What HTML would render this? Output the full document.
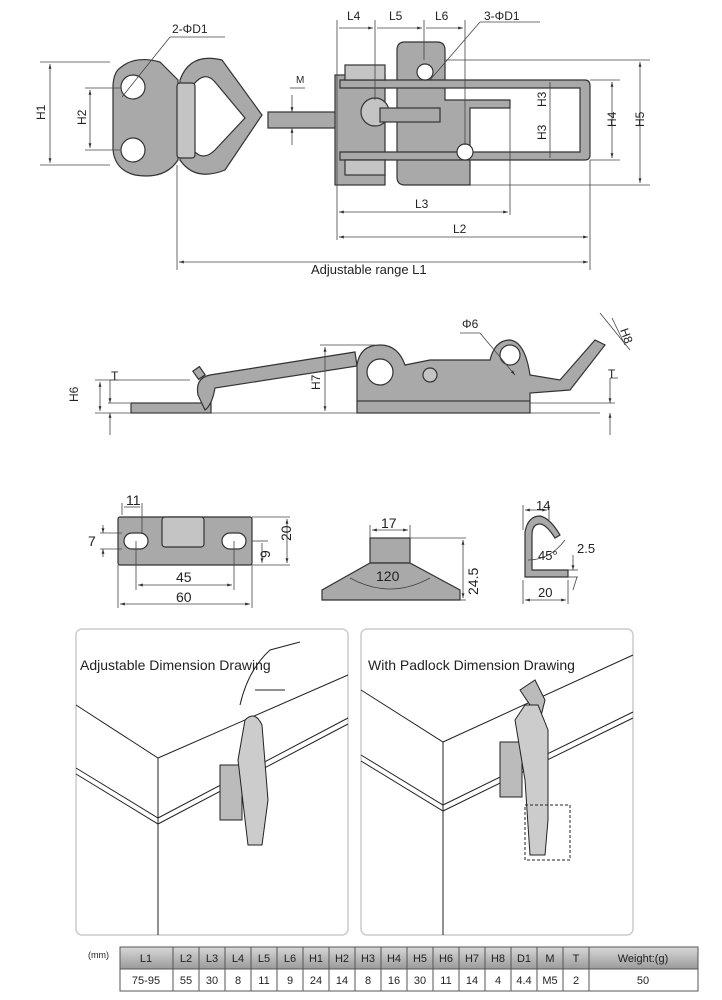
<!DOCTYPE html>
<html><head><meta charset="utf-8"><style>
body{margin:0;background:#fff;width:722px;height:1000px;overflow:hidden}
svg{display:block}
text{font-family:"Liberation Sans",sans-serif;fill:#222}
.d{stroke:#444;stroke-width:0.8;fill:none}
.p{fill:#a9a9a9;stroke:#333;stroke-width:1.2}
.l{fill:#c4c4c4;stroke:#333;stroke-width:1.2}
.w{fill:#fff;stroke:#333;stroke-width:1.2}
.k{stroke:#222;stroke-width:1;fill:none}
</style></head><body>
<svg width="722" height="1000" viewBox="0 0 722 1000">
<defs><marker id="a" viewBox="0 0 10 10" refX="10" refY="5" markerWidth="6" markerHeight="6" orient="auto-start-reverse"><path d="M0,2L10,5L0,8z" fill="#333"/></marker>
<linearGradient id="g" x1="0" y1="0" x2="0" y2="1"><stop offset="0" stop-color="#d8d8d8"/><stop offset="1" stop-color="#9a9a9a"/></linearGradient></defs>

<!-- TOP VIEW -->
<path class="p" d="M120,68 Q135,55 160,62 L178,80 L178,160 Q165,180 135,175 Q115,170 113,150 L113,85 Q114,72 120,68z"/>
<circle class="w" cx="133" cy="87" r="12"/><circle class="w" cx="133" cy="150" r="12"/>
<path class="p" d="M180,80 Q190,52 222,60 L262,115 L225,170 Q195,182 180,160z"/>
<path class="w" d="M193,85 Q205,70 215,82 L245,118 L215,150 Q203,162 193,150z"/>
<rect class="l" x="177" y="83" width="18" height="75" rx="3"/>
<rect class="p" x="268" y="112" width="80" height="16"/>
<rect class="p" x="335" y="75" width="50" height="110"/>
<path class="p" d="M397,50 Q397,42 405,42 L437,42 Q445,42 445,50 L445,100 L510,100 L510,108 L470,108 L470,185 L405,185 Q397,185 397,177z"/>
<path class="p" d="M340,80 L585,80 Q590,80 590,86 L590,155 Q590,160 585,160 L340,160 L340,152 L580,152 L580,88 L340,88z"/>
<rect class="l" x="345" y="65" width="40" height="15"/><rect class="l" x="345" y="160" width="40" height="15"/>
<circle class="l" cx="375" cy="112" r="14"/><circle class="w" cx="425" cy="72" r="8"/><circle class="w" cx="465" cy="152" r="8"/>
<rect class="p" x="380" y="108" width="60" height="14"/>
<g class="d">
<line x1="40" y1="62" x2="110" y2="62"/><line x1="40" y1="165" x2="110" y2="165"/><line x1="50" y1="64" x2="50" y2="163" marker-start="url(#a)" marker-end="url(#a)"/>
<line x1="85" y1="88" x2="120" y2="88"/><line x1="85" y1="150" x2="120" y2="150"/><line x1="90" y1="90" x2="90" y2="148" marker-start="url(#a)" marker-end="url(#a)"/>
<line x1="122" y1="97" x2="170" y2="37"/><line x1="170" y1="37" x2="225" y2="37"/>
<line x1="290" y1="88" x2="305" y2="88"/><line x1="292" y1="95" x2="292" y2="112" marker-end="url(#a)"/><line x1="292" y1="145" x2="292" y2="128" marker-end="url(#a)"/>
<line x1="337" y1="20" x2="337" y2="240"/><line x1="375" y1="20" x2="375" y2="100"/><line x1="424" y1="20" x2="424" y2="60"/><line x1="465" y1="20" x2="465" y2="145"/>
<line x1="339" y1="28" x2="373" y2="28" marker-end="url(#a)"/><line x1="377" y1="28" x2="422" y2="28" marker-end="url(#a)"/><line x1="426" y1="28" x2="463" y2="28" marker-end="url(#a)"/>
<line x1="430" y1="80" x2="480" y2="22"/><line x1="480" y1="22" x2="540" y2="22"/>
<line x1="445" y1="60" x2="650" y2="60"/><line x1="470" y1="185" x2="650" y2="185"/><line x1="640" y1="62" x2="640" y2="183" marker-start="url(#a)" marker-end="url(#a)"/>
<line x1="590" y1="80" x2="620" y2="80"/><line x1="590" y1="160" x2="620" y2="160"/><line x1="612" y1="82" x2="612" y2="158" marker-start="url(#a)" marker-end="url(#a)"/>
<line x1="550" y1="82" x2="550" y2="158"/>
<line x1="510" y1="108" x2="510" y2="215"/><line x1="339" y1="212" x2="508" y2="212" marker-start="url(#a)" marker-end="url(#a)"/>
<line x1="590" y1="160" x2="590" y2="270"/><line x1="339" y1="237" x2="588" y2="237" marker-start="url(#a)" marker-end="url(#a)"/>
<line x1="177" y1="165" x2="177" y2="270"/><line x1="179" y1="262" x2="588" y2="262" marker-start="url(#a)" marker-end="url(#a)"/>
</g>
<g font-size="12">
<text x="45" y="120" transform="rotate(-90 45 120)">H1</text><text x="86" y="125" transform="rotate(-90 86 125)">H2</text>
<text x="172" y="33">2-ΦD1</text><text x="296" y="83" font-size="10">M</text>
<text x="347" y="20">L4</text><text x="389" y="20">L5</text><text x="435" y="20">L6</text><text x="484" y="20">3-ΦD1</text>
<text x="546" y="107" transform="rotate(-90 546 107)">H3</text><text x="546" y="140" transform="rotate(-90 546 140)">H3</text>
<text x="616" y="127" transform="rotate(-90 616 127)">H4</text><text x="644" y="127" transform="rotate(-90 644 127)">H5</text>
<text x="415" y="208">L3</text><text x="453" y="233">L2</text>
<text x="311" y="274" font-family="Liberation Serif" font-size="13">Adjustable range L1</text>
</g>

<!-- SIDE VIEW -->
<rect class="p" x="131" y="403" width="80" height="10"/>
<path class="p" d="M198,395 Q195,378 210,375 L355,352 L357,366 L215,388 Q212,405 205,410z"/>
<rect class="p" x="195" y="368" width="8" height="10" transform="rotate(-35 199 373)"/>
<path class="p" d="M357,413 L357,365 Q360,345 380,345 Q398,345 405,365 L430,360 L490,360 Q495,340 510,340 Q525,342 530,375 L560,380 L595,340 L605,345 L570,390 L530,393 L530,413z"/>
<circle class="w" cx="380" cy="372" r="13"/><circle class="w" cx="510" cy="355" r="10"/><circle class="l" cx="430" cy="375" r="7"/>
<line class="k" x1="357" y1="401" x2="530" y2="401"/>
<g class="d">
<line x1="95" y1="380" x2="190" y2="380"/><line x1="95" y1="413" x2="600" y2="413"/><line x1="100" y1="382" x2="100" y2="411" marker-start="url(#a)" marker-end="url(#a)"/>
<line x1="108" y1="403" x2="130" y2="403"/><line x1="110" y1="380" x2="110" y2="403" marker-end="url(#a)"/><line x1="110" y1="435" x2="110" y2="413" marker-end="url(#a)"/><line x1="110" y1="380" x2="118" y2="380"/>
<line x1="320" y1="345" x2="375" y2="345"/><line x1="325" y1="347" x2="325" y2="411" marker-start="url(#a)" marker-end="url(#a)"/>
<line x1="460" y1="333" x2="480" y2="333"/><line x1="480" y1="333" x2="515" y2="375" marker-end="url(#a)"/>
<line x1="600" y1="313" x2="630" y2="350"/><line x1="612" y1="318" x2="625" y2="345"/>
<line x1="530" y1="403" x2="615" y2="403"/><line x1="610" y1="378" x2="610" y2="403" marker-end="url(#a)"/><line x1="610" y1="435" x2="610" y2="413" marker-end="url(#a)"/><line x1="610" y1="378" x2="618" y2="378"/>
</g>
<g font-size="12">
<text x="78" y="402" transform="rotate(-90 78 402)">H6</text><text x="111" y="380">T</text>
<text x="320" y="390" transform="rotate(-90 320 390)">H7</text><text x="462" y="328">Φ6</text>
<text x="620" y="330" transform="rotate(70 620 330)">H8</text><text x="608" y="378">T</text>
</g>

<!-- STRIKE PLATE -->
<rect class="p" x="118" y="517" width="134" height="48" rx="2"/>
<rect class="l" x="162" y="517" width="42" height="30" rx="3"/>
<rect class="w" x="124" y="533" width="24" height="16" rx="8"/><rect class="w" x="222" y="533" width="24" height="16" rx="8"/>
<g class="d">
<line x1="122" y1="503" x2="122" y2="515"/><line x1="142" y1="503" x2="142" y2="533"/><line x1="124" y1="507" x2="140" y2="507"/>
<line x1="100" y1="533" x2="122" y2="533"/><line x1="100" y1="549" x2="122" y2="549"/><line x1="103" y1="525" x2="103" y2="533" marker-end="url(#a)"/><line x1="103" y1="557" x2="103" y2="549" marker-end="url(#a)"/>
<line x1="252" y1="541" x2="268" y2="541"/><line x1="252" y1="565" x2="290" y2="565"/><line x1="262" y1="543" x2="262" y2="563" marker-end="url(#a)"/>
<line x1="252" y1="517" x2="290" y2="517"/><line x1="287" y1="519" x2="287" y2="563" marker-start="url(#a)" marker-end="url(#a)"/>
<line x1="136" y1="541" x2="136" y2="590"/><line x1="234" y1="541" x2="234" y2="590"/><line x1="138" y1="585" x2="232" y2="585" marker-start="url(#a)" marker-end="url(#a)"/>
<line x1="118" y1="565" x2="118" y2="608"/><line x1="252" y1="565" x2="252" y2="608"/><line x1="120" y1="604" x2="250" y2="604" marker-start="url(#a)" marker-end="url(#a)"/>
</g>
<g font-size="14"><text x="126" y="505">11</text><text x="88" y="546">7</text><text x="256" y="560" transform="rotate(-90 262 552)">9</text><text x="284" y="548" transform="rotate(-90 284 541)">20</text><text x="176" y="582">45</text><text x="176" y="602">60</text></g>

<!-- TRAPEZOID -->
<rect class="p" x="370" y="538" width="40" height="25"/>
<path class="p" d="M370,563 L410,563 L460,590 L460,600 L322,600 L322,590z"/>
<g class="d">
<line x1="370" y1="525" x2="370" y2="538"/><line x1="410" y1="525" x2="410" y2="538"/><line x1="372" y1="530" x2="408" y2="530" marker-start="url(#a)" marker-end="url(#a)"/>
<line x1="410" y1="538" x2="466" y2="538"/><line x1="460" y1="600" x2="466" y2="600"/><line x1="463" y1="540" x2="463" y2="598" marker-start="url(#a)" marker-end="url(#a)"/>
<path d="M350,578 Q390,600 430,578"/>
</g>
<g font-size="14"><text x="381" y="528">17</text><text x="376" y="581">120</text><text x="478" y="595" transform="rotate(-90 478 595)">24.5</text></g>

<!-- HOOK -->
<path class="p" d="M525,577 L525,532 Q528,516 540,516 Q550,518 560,535 L555,538 Q546,524 540,524 Q532,524 532,535 L532,570 L568,570 L568,577z"/>
<g class="d">
<line x1="523" y1="505" x2="523" y2="530"/><line x1="549" y1="505" x2="549" y2="520"/><line x1="525" y1="510" x2="547" y2="510" marker-start="url(#a)" marker-end="url(#a)"/>
<path d="M528,560 Q550,560 565,540"/>
<line x1="568" y1="570" x2="578" y2="570"/><line x1="568" y1="577" x2="578" y2="577"/><line x1="573" y1="555" x2="573" y2="570" marker-end="url(#a)"/><line x1="573" y1="590" x2="577" y2="577"/>
<line x1="523" y1="580" x2="523" y2="604"/><line x1="568" y1="580" x2="568" y2="604"/><line x1="525" y1="600" x2="566" y2="600" marker-start="url(#a)" marker-end="url(#a)"/>
</g>
<g font-size="13"><text x="536" y="510">14</text><text x="538" y="560">45°</text><text x="577" y="553">2.5</text><text x="538" y="597">20</text></g>

<!-- PANELS -->
<rect x="76" y="629" width="272" height="306" rx="6" fill="#fff" stroke="#ccc" stroke-width="1.5"/>
<rect x="361" y="629" width="272" height="306" rx="6" fill="#fff" stroke="#ccc" stroke-width="1.5"/>
<g class="k">
<polyline points="76,705 158,758 348,675"/><line x1="158" y1="758" x2="158" y2="935"/>
<polyline points="76,768 158,818 348,718"/><polyline points="76,774 158,824 348,724"/>
<polyline points="361,690 443,742 633,655"/><line x1="443" y1="742" x2="443" y2="935"/>
<polyline points="361,755 443,805 633,712"/><polyline points="361,761 443,811 633,718"/>
<path d="M240,705 Q248,670 270,650 L300,642 M255,690 L285,690"/>
<rect x="220" y="765" width="22" height="55" fill="#bbb"/>
<path d="M238,760 L245,720 Q255,710 262,725 L268,800 L262,845 L248,845 Z" fill="#ccc"/>
<rect x="500" y="742" width="22" height="55" fill="#bbb"/>
<path d="M520,690 L535,680 L545,700 L540,720 Z" fill="#bbb"/>
<path d="M515,720 L525,705 L538,705 L548,730 L548,820 L545,855 L530,855 L525,780 Z" fill="#ccc"/>
<rect x="525" y="805" width="45" height="55" stroke-dasharray="3,2"/>
</g>
<text x="80" y="670" font-family="Liberation Serif" font-size="14">Adjustable Dimension Drawing</text>
<text x="368" y="670" font-family="Liberation Serif" font-size="14">With Padlock Dimension Drawing</text>

<!-- TABLE -->
<text x="88" y="958" font-size="9">(mm)</text>
<rect x="120" y="947" width="578" height="22" fill="url(#g)" stroke="#555"/>
<rect x="120" y="969" width="578" height="22" fill="#fff" stroke="#555"/>
<g stroke="#555" stroke-width="1">
<line x1="173" y1="947" x2="173" y2="991"/><line x1="199" y1="947" x2="199" y2="991"/><line x1="225" y1="947" x2="225" y2="991"/><line x1="251" y1="947" x2="251" y2="991"/><line x1="277" y1="947" x2="277" y2="991"/><line x1="303" y1="947" x2="303" y2="991"/><line x1="329" y1="947" x2="329" y2="991"/><line x1="355" y1="947" x2="355" y2="991"/><line x1="381" y1="947" x2="381" y2="991"/><line x1="407" y1="947" x2="407" y2="991"/><line x1="433" y1="947" x2="433" y2="991"/><line x1="459" y1="947" x2="459" y2="991"/><line x1="485" y1="947" x2="485" y2="991"/><line x1="511" y1="947" x2="511" y2="991"/><line x1="537" y1="947" x2="537" y2="991"/><line x1="563" y1="947" x2="563" y2="991"/><line x1="589" y1="947" x2="589" y2="991"/>
</g>
<g font-size="11" text-anchor="middle">
<text x="146" y="962">L1</text><text x="186" y="962">L2</text><text x="212" y="962">L3</text><text x="238" y="962">L4</text><text x="264" y="962">L5</text><text x="290" y="962">L6</text><text x="316" y="962">H1</text><text x="342" y="962">H2</text><text x="368" y="962">H3</text><text x="394" y="962">H4</text><text x="420" y="962">H5</text><text x="446" y="962">H6</text><text x="472" y="962">H7</text><text x="498" y="962">H8</text><text x="524" y="962">D1</text><text x="550" y="962">M</text><text x="576" y="962">T</text><text x="643" y="962" font-family="Liberation Serif">Weight:(g)</text>
<text x="146" y="984">75-95</text><text x="186" y="984">55</text><text x="212" y="984">30</text><text x="238" y="984">8</text><text x="264" y="984">11</text><text x="290" y="984">9</text><text x="316" y="984">24</text><text x="342" y="984">14</text><text x="368" y="984">8</text><text x="394" y="984">16</text><text x="420" y="984">30</text><text x="446" y="984">11</text><text x="472" y="984">14</text><text x="498" y="984">4</text><text x="524" y="984">4.4</text><text x="550" y="984">M5</text><text x="576" y="984">2</text><text x="643" y="984">50</text>
</g>
</svg>
</body></html>
